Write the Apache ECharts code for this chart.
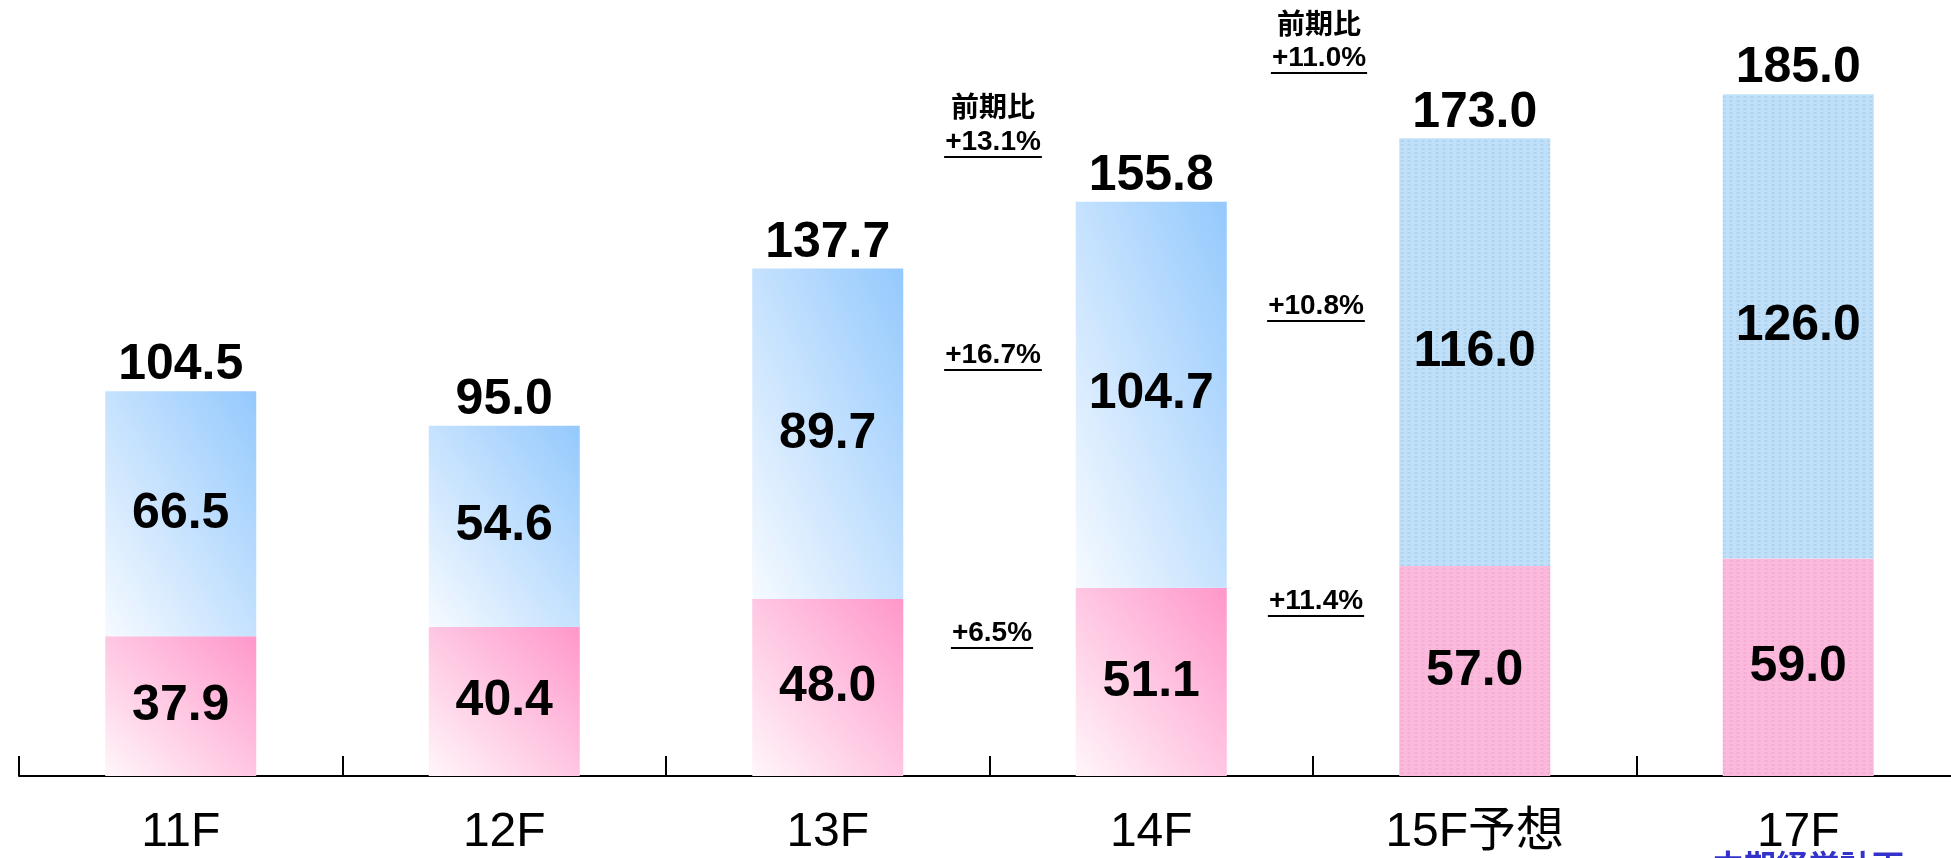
<!DOCTYPE html>
<html>
<head>
<meta charset="utf-8">
<script src="https://cdn.jsdelivr.net/npm/echarts@6/dist/echarts.min.js"></script>
<style>
html, body { margin: 0; padding: 0; background: #fff; overflow: hidden; }
#main { width: 1960px; height: 858px; }
</style>
</head>
<body>
<div id="main"></div>
<script>
// 年度
const years = ['11F', '12F', '13F', '14F', '15F予想', '17F']
// 下段（ピンク）
const pinkValues = [37.9, 40.4, 48.0, 51.1, 57.0, 59.0]
// 上段（ブルー）
const blueValues = [66.5, 54.6, 89.7, 104.7, 116.0, 126.0]
// 合計
const totalValues = [104.5, 95.0, 137.7, 155.8, 173.0, 185.0]
// 予想・計画の年度（網掛け）
const planIndex = [4, 5]
// 前期比
const growthLeft = ['+13.1%', '+16.7%', '+6.5%']
const growthRight = ['+11.0%', '+10.8%', '+11.4%']

const FONT = 'Arial, "Liberation Sans", "Noto Sans CJK JP", sans-serif'
const BAR_W = 151
const PX_PER_UNIT = 774 / 210

const chart = echarts.init(document.getElementById('main'))

// 左下→右上のグラデーション（棒の縦横比に合わせて等色線を対角に揃える）
function diagGrad (value, c0, c1) {
  const w = BAR_W
  const h = Math.max(value * PX_PER_UNIT, 1)
  const L2 = w * w + h * h
  return new echarts.graphic.LinearGradient(0, 1, 2 * h * h / L2, 1 - 2 * w * w / L2, [
    { offset: 0, color: c0 },
    { offset: 1, color: c1 }
  ])
}
const hatch = (c) => ({
  symbol: 'rect',
  symbolSize: 0.7,
  color: c,
  dashArrayX: [4, 3],
  dashArrayY: [2, 2]
})

function barData (values, c0, c1, flatColor, decalColor) {
  return values.map((v, i) => {
    if (planIndex.indexOf(i) < 0) {
      return { value: v, itemStyle: { color: diagGrad(v, c0, c1) } }
    }
    return { value: v, itemStyle: { color: flatColor, decal: hatch(decalColor) } }
  })
}

// 注記（前期比）
const measure = document.createElement('canvas').getContext('2d')
measure.font = 'bold 28px ' + FONT
function note (text, x, y, underline) {
  const els = [{
    type: 'text',
    x: x,
    y: y,
    style: {
      text: text,
      font: 'bold 28px ' + FONT,
      fill: '#000',
      align: 'center',
      verticalAlign: 'middle',
      textAlign: 'center',
      textVerticalAlign: 'middle'
    }
  }]
  if (underline) {
    const w = measure.measureText(text).width
    els.push({
      type: 'line',
      shape: { x1: x - w / 2 - 1, y1: y + 15, x2: x + w / 2 + 1, y2: y + 15 },
      style: { stroke: '#000', lineWidth: 2 }
    })
  }
  return els
}

const graphics = [].concat(
  note('前期比', 993, 109, false),
  note(growthLeft[0], 993, 142, true),
  note(growthLeft[1], 993, 355, true),
  note(growthLeft[2], 992, 633, true),
  note('前期比', 1319, 26, false),
  note(growthRight[0], 1319, 58, true),
  note(growthRight[1], 1316, 306, true),
  note(growthRight[2], 1316, 601, true),
  [{
    type: 'text',
    x: 1712,
    y: 853,
    style: {
      text: '中期経営計画',
      font: 'bold 32px ' + FONT,
      fill: '#3333cc',
      align: 'left',
      verticalAlign: 'top',
      textAlign: 'left',
      textVerticalAlign: 'top'
    }
  }]
)

const insideLabel = {
  show: true,
  position: 'inside',
  color: '#000',
  fontSize: 50,
  fontWeight: 'bold',
  fontFamily: FONT,
  formatter: (p) => p.value.toFixed(1)
}

const option = {
  backgroundColor: '#fff',
  animation: false,
  grid: { left: 19, top: 2, right: 0, height: 774 },
  xAxis: {
    type: 'category',
    data: years,
    axisLine: { lineStyle: { color: '#000', width: 2 } },
    axisTick: { show: true, inside: true, length: 20, lineStyle: { color: '#000', width: 2 } },
    axisLabel: { color: '#000', fontSize: 48, fontFamily: FONT, margin: 33 }
  },
  yAxis: { type: 'value', min: 0, max: 210, show: false },
  series: [
    {
      name: 'pink',
      type: 'bar',
      stack: 'total',
      barWidth: BAR_W,
      label: insideLabel,
      data: barData(pinkValues, '#fff6fa', '#ff97ca', '#fbbadc', 'rgba(214,110,170,0.25)')
    },
    {
      name: 'blue',
      type: 'bar',
      stack: 'total',
      barWidth: BAR_W,
      label: insideLabel,
      data: barData(blueValues, '#f6faff', '#94c9fd', '#bfe0f8', 'rgba(90,150,200,0.25)')
    },
    {
      name: 'total',
      type: 'scatter',
      symbolSize: 1,
      itemStyle: { color: 'transparent', opacity: 1 },
      label: {
        show: true,
        position: 'top',
        distance: 0,
        color: '#000',
        opacity: 1,
        fontSize: 50,
        fontWeight: 'bold',
        fontFamily: FONT,
        formatter: (p) => p.value.toFixed(1)
      },
      data: totalValues
    }
  ],
  graphic: graphics
}

chart.setOption(option)
</script>
</body>
</html>
